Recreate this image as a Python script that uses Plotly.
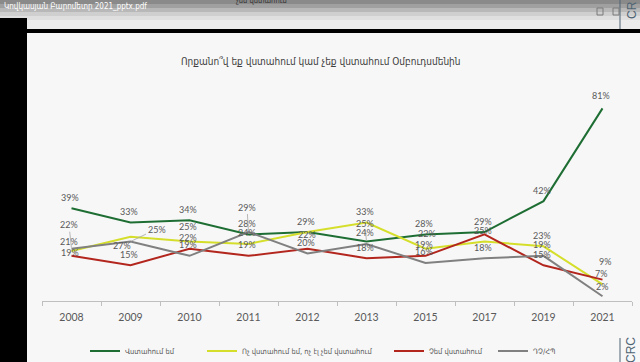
import plotly.graph_objects as go

# ---------------- data ----------------
years = ["2008", "2009", "2010", "2011", "2012", "2013", "2015", "2017", "2019", "2021"]
trust = [39, 33, 34, 28, 29, 25, 28, 29, 42, 81]
neither = [21, 27, 25, 24, 29, 33, 22, 25, 23, 7]
distrust = [19, 15, 22, 19, 22, 18, 19, 28, 15, 9]
dk_ra = [22, 25, 19, 29, 20, 24, 16, 18, 19, 2]

series_names = ["Վստահում եմ", "Ոչ վստահում եմ, ոչ էլ չեմ վստահում", "Չեմ վստահում", "ԴՉ/ՀՊ"]
series_values = [trust, neither, distrust, dk_ra]
title_text = "Որքանո՞վ եք վստահում կամ չեք վստահում Օմբուդսմենին"
file_title = "Կովկասյան Բարոմետր 2021_pptx.pdf"

# ---------------- styling ----------------
colors = ["#1e6e34", "#d5df2b", "#b3261e", "#808080"]
W, H = 640, 362
L, R, T, B = 42, 8, 87, 61
PW, PH = W - L - R, H - T - B
BOTTOM = H - B

def px(x):
    return (x - L) / PW

def py(y):
    return (BOTTOM - y) / PH

LABEL_FONT = dict(family="Lato, Open Sans, sans-serif", size=9, color="#595959")
ARM_FONT = "DejaVu Sans Condensed, DejaVu Sans, sans-serif"

# label placement tweaks (pixel offsets: dx, up, leader line)
label_offsets = {
    (0, "2008"): (-1.5, 11, False),
    (3, "2008"): (-2.5, 24, True),
    (1, "2008"): (-2.5, 10, False),
    (2, "2008"): (-1.5, 3, False),
    (1, "2009"): (-9, -9, False),
    (3, "2009"): (26, 12.5, True),
    (1, "2010"): (-1.5, 15, False),
    (3, "2011"): (-1.5, 25, True),
    (2, "2012"): (-1, 13.7, False),
    (0, "2013"): (-1.5, 18.5, True),
    (1, "2015"): (1, 15, False),
    (2, "2021"): (2.5, 18, False),
    (3, "2021"): (-1, 9.5, False),
    (0, "2021"): (-2, 12.7, False),
}
# labels that sit exactly under another label in the original
hidden_labels = {(2, "2017"), (1, "2012")}

fig = go.Figure()
legend_ids = ["legend", "legend2", "legend3", "legend4"]
for i, (name, vals) in enumerate(zip(series_names, series_values)):
    fig.add_trace(go.Scatter(
        x=years, y=vals, name=name, mode="lines",
        line=dict(color=colors[i], width=2),
        legend=legend_ids[i], hoverinfo="skip",
    ))

annotations = []
for i, vals in enumerate(series_values):
    for k, (yr, v) in enumerate(zip(years, vals)):
        if (i, yr) in hidden_labels:
            continue
        dx, up, leader = label_offsets.get((i, yr), (-1.5, 11, False))
        if leader:
            annotations.append(dict(
                x=k, y=v, xref="x", yref="y", text=f"{v}%", font=LABEL_FONT,
                showarrow=True, ax=dx, ay=-up, arrowhead=0, arrowwidth=0.8,
                arrowcolor="#a6a6a6", standoff=1,
            ))
        else:
            annotations.append(dict(
                x=k, y=v, xref="x", yref="y", text=f"{v}%", font=LABEL_FONT,
                showarrow=False, xshift=dx, yshift=up,
            ))

def paper_text(x, y, text, size, color, family=ARM_FONT, angle=0, xanchor="center"):
    return dict(x=px(x), y=py(y), xref="paper", yref="paper", text=text,
                xanchor=xanchor, yanchor="middle", textangle=angle, showarrow=False,
                font=dict(family=family, size=size, color=color))

annotations.append(paper_text(321, 62, title_text, 10, "#404040"))
annotations.append(paper_text(2, 7, file_title, 8, "#ffffff", xanchor="left"))
annotations.append(paper_text(262, 0, "չեմ վստահում", 7.5, "#333333"))
annotations.append(paper_text(632, 10, "CR", 12, "#4d6373", family="Liberation Sans, sans-serif", angle=-90))
annotations.append(paper_text(631, 350, "CRC", 12, "#4d6373", family="Liberation Sans, sans-serif", angle=-90))

shapes = []
# header gradient stripes
stripes = [(0, 4, "#8a8a8a"), (4, 8, "#a0a0a0"), (8, 12, "#b8b8b8"), (12, 16, "#cfcfcf"),
           (16, 20, "#dfdfdf"), (20, 29, "#ececec")]
for y0, y1, c in stripes:
    shapes.append(dict(type="rect", xref="paper", yref="paper", x0=px(0), x1=px(W),
                       y0=py(y1), y1=py(y0), fillcolor=c, line=dict(width=0), layer="below"))
# black separator and left band
shapes.append(dict(type="rect", xref="paper", yref="paper", x0=px(0), x1=px(W),
                   y0=py(33), y1=py(29), fillcolor="#000000", line=dict(width=0), layer="below"))
shapes.append(dict(type="rect", xref="paper", yref="paper", x0=px(0), x1=px(27),
                   y0=py(H), y1=py(18), fillcolor="#000000", line=dict(width=0), layer="below"))
# right side thin lines
shapes.append(dict(type="line", xref="paper", yref="paper", x0=px(620), x1=px(620),
                   y0=py(29), y1=py(0), line=dict(color="#4d6373", width=1)))
shapes.append(dict(type="line", xref="paper", yref="paper", x0=px(620), x1=px(620),
                   y0=py(H), y1=py(338), line=dict(color="#4d6373", width=1)))
# viewer icons
for x0 in (597, 613):
    shapes.append(dict(type="rect", xref="paper", yref="paper", x0=px(x0), x1=px(x0 + 6),
                       y0=py(15), y1=py(8), line=dict(color="#7a7a7a", width=1)))

legend_text_starts = [125, 242, 429, 533]
layout_legends = {}
for lid, xs in zip(legend_ids, legend_text_starts):
    layout_legends[lid] = dict(
        x=px(xs - 40), y=py(351), xanchor="left", yanchor="middle",
        orientation="h", bgcolor="rgba(0,0,0,0)",
        font=dict(family=ARM_FONT, size=7.5, color="#595959"),
        itemwidth=30,
    )

fig.update_layout(
    width=W, height=H, autosize=False,
    margin=dict(l=L, r=R, t=T, b=B, pad=0, autoexpand=False),
    paper_bgcolor="#f7f7f7", plot_bgcolor="rgba(0,0,0,0)",
    showlegend=True,
    annotations=annotations, shapes=shapes,
    xaxis=dict(
        type="category", categoryorder="array", categoryarray=years,
        range=[-0.5, len(years) - 0.5], autorange=False,
        tickson="boundaries", ticks="outside", ticklen=4, tickcolor="#bfbfbf",
        showline=True, linecolor="#bfbfbf", linewidth=1, showgrid=False,
        zeroline=False, ticklabelstandoff=6,
        tickfont=dict(family="Lato, Open Sans, sans-serif", size=10.5, color="#595959"),
        fixedrange=True,
    ),
    yaxis=dict(range=[0, 90], visible=False, showgrid=False, zeroline=False, fixedrange=True),
    **layout_legends,
)

fig.write_html(
    "out.html",
    config={"displayModeBar": False},
    post_script="document.body.style.margin='0px';document.body.style.padding='0px';",
)
